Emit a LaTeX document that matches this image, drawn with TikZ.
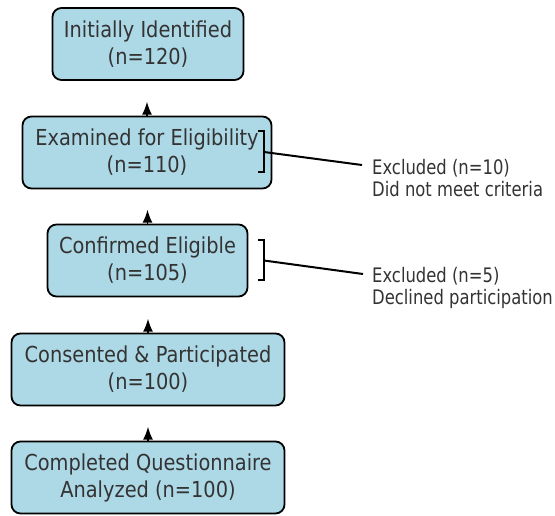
\documentclass[tikz,border=0pt]{standalone}
\usepackage{fontspec}
\usepackage{xcolor}
\usepackage{tikz}
\usetikzlibrary{arrows.meta}
\newfontfamily\boxfont[FakeStretch=0.88]{DejaVu Sans}
\newfontfamily\notefont[FakeStretch=0.82]{DejaVu Sans}
\definecolor{boxblue}{HTML}{ADD8E6}
\definecolor{inkgray}{HTML}{333333}
\newcommand{\tiparrow}{-{Latex[length=13pt,width=10pt]}}

\begin{document}
\begin{tikzpicture}[x=1pt,y=-1pt,
	stage/.style={draw=black,line width=1.8pt,fill=boxblue,rounded corners=9pt,align=center,text=inkgray,font=\boxfont\fontsize{22}{27}\selectfont,minimum height=72pt,inner sep=0pt},
	exnote/.style={anchor=north west,align=left,inner sep=0pt,text=inkgray,font=\notefont\fontsize{20}{22}\selectfont},
	bracketline/.style={line width=2pt}]
			\useasboundingbox (0,0) rectangle (555,515);
			\node[stage,minimum width=191pt] (ident) at (148,44) {Initially Identified\\(n=120)};
			\node[stage,minimum width=249pt] (exam) at (147,152.5) {Examined for Eligibility\\(n=110)};
			\node[stage,minimum width=200pt] (elig) at (147.5,260.5) {Confirmed Eligible\\(n=105)};
			\node[stage,minimum width=273pt] (cons) at (148,369.5) {Consented \& Participated\\(n=100)};
			\node[stage,minimum width=273pt] (anal) at (148,477.5) {Completed Questionnaire\\Analyzed (n=100)};
			\coordinate (tip2) at ([yshift=14pt]exam.north);
			\coordinate (tip3) at ([yshift=14pt]elig.north);
			\coordinate (tip4) at ([yshift=14pt]cons.north);
			\coordinate (tip5) at ([yshift=14pt]anal.north);
			\draw[\tiparrow,line width=1.8pt] (exam) -- (tip2);
			\draw[\tiparrow,line width=1.8pt] (elig) -- (tip3);
			\draw[\tiparrow,line width=1.8pt] (cons) -- (tip4);
			\draw[\tiparrow,line width=1.8pt] (anal) -- (tip5);
			\draw[bracketline] (258,131) -- (264,131) -- (264,172) -- (258,172);
			\coordinate (kink1) at (264,152);
			\coordinate (end1) at (362,165);
			\node[exnote] (excl1) at (372,159.5) {Excluded (n=10)\\Did not meet criteria};
			\draw[bracketline] (kink1) -- (end1);
			\draw[bracketline] (258,240) -- (264,240) -- (264,280) -- (258,280);
			\coordinate (kink2) at (264,260.5);
			\coordinate (end2) at (363,274);
			\node[exnote] (excl2) at (372,267) {Excluded (n=5)\\Declined participation};
			\draw[bracketline] (kink2) -- (end2);
			\end{tikzpicture}
\end{document}
